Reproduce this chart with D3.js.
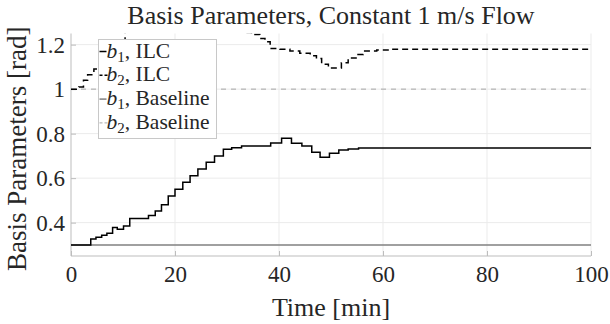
<!DOCTYPE html>
<html>
<head>
<meta charset="UTF-8">
<script src="https://d3js.org/d3.v7.min.js"></script>
<style>
  body { margin: 0; background: #fff; }
  text { font-family: "Liberation Serif", serif; fill: #262626; }
</style>
</head>
<body>
<svg id="canvas"></svg>
<script>
width = 610;
height = 324;
margin = {top: 33.5, right: 19, bottom: 68, left: 71};

// time [min] and value [rad], step changes
b1IlcT = [0, 3.8, 4.8, 5.9, 6.9, 8.0, 8.9, 10.1, 11.3, 14.9, 16.2, 17.4, 18.7, 20.0, 21.5, 22.9, 24.4, 26.0, 27.6, 29.3, 30.9, 32.8, 38.4, 40.5, 42.4, 44.4, 46.3, 47.9, 49.7, 51.5, 53.3, 55.3, 100];
b1IlcV = [0.30, 0.326, 0.334, 0.343, 0.352, 0.378, 0.370, 0.385, 0.418, 0.432, 0.452, 0.480, 0.520, 0.550, 0.581, 0.611, 0.641, 0.671, 0.700, 0.730, 0.737, 0.744, 0.758, 0.779, 0.757, 0.744, 0.716, 0.694, 0.712, 0.726, 0.731, 0.735, 0.734];

b2IlcT = [0, 1.5, 2.4, 3.2, 4.4, 5.6, 6.8, 8.0, 9.2, 10.4, 12, 14, 17, 20, 24, 28, 31, 33.5, 34.7, 36.3, 37.3, 38.3, 40.2, 42.1, 44.0, 46.0, 47.2, 48.2, 49.5, 52.0, 53.3, 55.0, 56.2, 58.8, 61.3, 100];
b2IlcV = [1.0, 1.01, 1.04, 1.065, 1.09, 1.12, 1.15, 1.19, 1.22, 1.26, 1.29, 1.31, 1.33, 1.34, 1.33, 1.30, 1.27, 1.255, 1.245, 1.227, 1.213, 1.183, 1.179, 1.171, 1.161, 1.150, 1.138, 1.112, 1.095, 1.119, 1.140, 1.156, 1.171, 1.176, 1.179, 1.180];

baseT = [0, 100];
b1BaseV = [0.3, 0.3];
b2BaseV = [1.0, 1.0];

xTicks = [0, 20, 40, 60, 80, 100];
yTicks = [0.4, 0.6, 0.8, 1.0, 1.2];
yTickLabels = ["0.4", "0.6", "0.8", "1", "1.2"];

series = [
    {name: "ILC", sub: "1", t: b1IlcT, v: b1IlcV, color: "#000", dash: null, w: 1.5},
    {name: "ILC", sub: "2", t: b2IlcT, v: b2IlcV, color: "#000", dash: "6,4", w: 1.5},
    {name: "Baseline", sub: "1", t: baseT, v: b1BaseV, color: "#808080", dash: null, w: 1.5},
    {name: "Baseline", sub: "2", t: baseT, v: b2BaseV, color: "#a6a6a6", dash: "5,5", w: 1}
];

canvas = d3.select("#canvas").attr("width", width).attr("height", height);

x = d3.scaleLinear().domain([0, 100]).range([margin.left, width - margin.right]);
y = d3.scaleLinear().domain([0.25, 1.25]).range([height - margin.bottom, margin.top]);

canvas.append("clipPath").attr("id", "clip")
    .append("rect")
    .attr("x", x(0)).attr("y", y(1.25))
    .attr("width", x(100) - x(0)).attr("height", y(0.25) - y(1.25));

// grid
grid = canvas.append("g");
grid.selectAll(".gx").data(xTicks.slice(1)).enter().append("line")
    .attr("x1", d => x(d)).attr("x2", d => x(d))
    .attr("y1", y(0.25)).attr("y2", y(1.25))
    .style("stroke", "#ebebeb");
grid.selectAll(".gy").data(yTicks).enter().append("line")
    .attr("x1", x(0)).attr("x2", x(100))
    .attr("y1", d => y(d)).attr("y2", d => y(d))
    .style("stroke", "#ebebeb");

// axes
xAxis = canvas.append("g")
    .attr("transform", "translate(0," + y(0.25) + ")")
    .call(d3.axisBottom(x).tickValues(xTicks).tickSizeInner(-5).tickSizeOuter(0).tickPadding(10));
yAxis = canvas.append("g")
    .attr("transform", "translate(" + x(0) + ",0)")
    .call(d3.axisLeft(y).tickValues(yTicks).tickFormat((d, i) => yTickLabels[i]).tickSizeInner(-5).tickSizeOuter(0).tickPadding(6));
[xAxis, yAxis].forEach(function(a) {
    a.attr("font-family", null);
    a.select(".domain").style("stroke", "#bdbdbd");
    a.selectAll(".tick line").style("stroke", "#bdbdbd");
    a.selectAll("text").style("font-size", "23px").style("fill", "#262626")
        .style("font-family", "'Liberation Serif', serif");
});
yAxis.select(".domain").attr("d", "M0," + y(0.25) + "V" + y(1.25));
xAxis.select(".domain").attr("d", "M" + x(0) + ",0H" + x(100));

// lines
line = d3.line().curve(d3.curveStepAfter);
plot = canvas.append("g").attr("clip-path", "url(#clip)");
series.slice().reverse().forEach(function(s) {
    pts = s.t.map((t, i) => [x(t), y(s.v[i])]);
    plot.append("path")
        .attr("d", line(pts))
        .style("fill", "none")
        .style("stroke", s.color)
        .style("stroke-width", s.w)
        .style("stroke-dasharray", s.dash);
});

// legend
lg = canvas.append("g").attr("transform", "translate(98.5,39.5)");
lg.append("rect").attr("width", 118).attr("height", 99)
    .style("fill", "#fff").style("stroke", "#c8c8c8");
series.forEach(function(s, i) {
    row = lg.append("g").attr("transform", "translate(0," + (18 + i * 23.8) + ")");
    row.append("line").attr("x1", 1).attr("x2", s.dash ? 10 : 8)
        .attr("y1", -6).attr("y2", -6)
        .style("stroke", s.color).style("stroke-width", s.w)
        .style("stroke-dasharray", s.dash ? "3,2" : null);
    t = row.append("text").attr("x", 8).style("font-size", "21.5px");
    t.append("tspan").style("font-style", "italic").text("b");
    t.append("tspan").attr("dy", 4).style("font-size", "15px").text(s.sub);
    t.append("tspan").attr("dy", -4).text(", " + s.name);
});

// titles
canvas.append("text")
    .attr("x", (x(0) + x(100)) / 2).attr("y", 24)
    .attr("text-anchor", "middle").style("font-size", "26px")
    .text("Basis Parameters, Constant 1 m/s Flow");
canvas.append("text")
    .attr("x", (x(0) + x(100)) / 2).attr("y", 316)
    .attr("text-anchor", "middle").style("font-size", "26px")
    .text("Time [min]");
canvas.append("text")
    .attr("transform", "translate(26," + ((y(0.25) + y(1.25)) / 2 + 4) + ") rotate(-90)")
    .attr("text-anchor", "middle").style("font-size", "27px")
    .text("Basis Parameters [rad]");
</script>
</body>
</html>
